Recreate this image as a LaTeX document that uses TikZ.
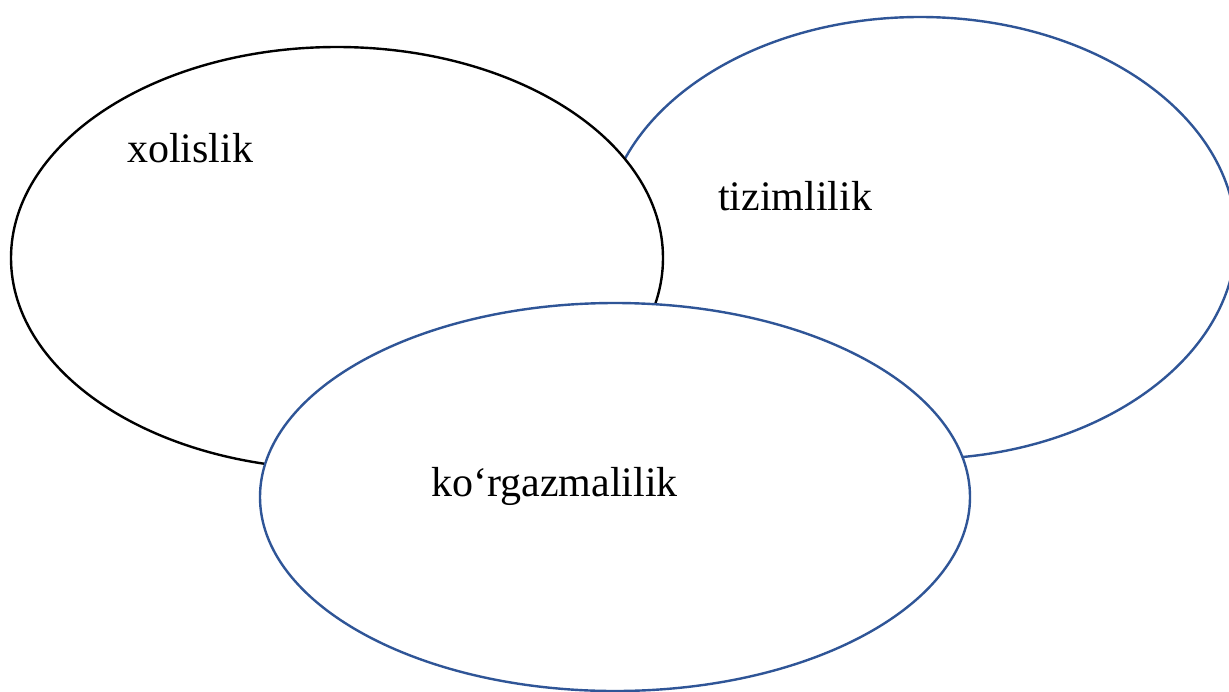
\documentclass[tikz,border=0pt]{standalone}
\usepackage{fontspec}
\setmainfont{Liberation Serif}
\definecolor{ovalblue}{HTML}{2F5597}
\begin{document}
\begin{tikzpicture}[x=1pt,y=-1pt,
  oval/.style={line width=2.4pt, fill=white},
  lbl/.style={anchor=base west, inner sep=0pt, font=\fontsize{42}{50}\selectfont}]
\useasboundingbox (0,0) rectangle (1229,691);
\fill[white] (0,0) rectangle (1229,691);
\begin{scope}
\clip (0,0) rectangle (1229,691);
% right ellipse
\draw[oval, draw=ovalblue] (920,238) ellipse [x radius=316, y radius=221];
% left ellipse
\draw[oval, draw=black] (337,258) ellipse [x radius=326, y radius=211];
% bottom ellipse
\draw[oval, draw=ovalblue] (615,497) ellipse [x radius=355, y radius=194];
\end{scope}
\node[lbl] (xol) at (127,162) {xolislik};
\node[lbl] (tiz) at (718,210) {tizimlilik};
\node[lbl] (kor) at (431,496) {ko‘rgazmalilik};
\end{tikzpicture}
\end{document}
